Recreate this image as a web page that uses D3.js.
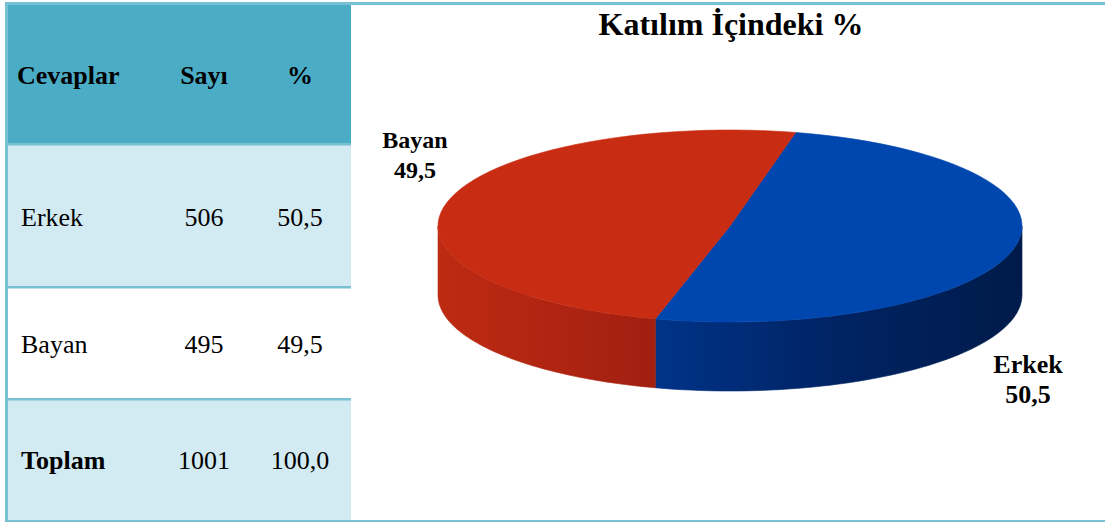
<!DOCTYPE html>
<html>
<head>
<meta charset="utf-8">
<script src="https://cdn.jsdelivr.net/npm/d3@7"></script>
<style>
  body { margin: 0; background: #fff; }
  svg { display: block; }
</style>
</head>
<body>
<svg id="chart" width="1105" height="522"></svg>
<script>
/* global d3: false */

// data
const headers = ['Cevaplar', 'Sayı', '%'];
const categories = ['Erkek', 'Bayan'];
const counts = [506, 495];
const percents = ['50,5', '49,5'];
const totalLabel = 'Toplam';
const totalCount = 1001;
const totalPercent = '100,0';
const pieValues = [50.5, 49.5];
const title = 'Katılım İçindeki %';

const fams = ['Liberation Serif'];
const svg = d3.select('#chart');
const lineColor = '#78c1d3';

// table layout
const rowEdges = [5, 145, 288, 400, 520];
const rowFills = ['#4bacc6', '#d2eaf1', '#ffffff', '#d2eaf1'];
const tableLeft = 8;
const tableRight = 351;
const colX = [20, 204, 300];
const colAnchor = ['start', 'middle', 'middle'];

const tableRows = [
  { cells: headers, bold: [true, true, true] },
  { cells: [categories[0], String(counts[0]), percents[0]], bold: [false, false, false] },
  { cells: [categories[1], String(counts[1]), percents[1]], bold: [false, false, false] },
  { cells: [totalLabel, String(totalCount), totalPercent], bold: [true, false, false] },
];

svg.selectAll('rect.row')
  .data(tableRows)
  .enter()
  .append('rect')
  .attr('class', 'row')
  .attr('x', tableLeft)
  .attr('y', (d, i) => rowEdges[i])
  .attr('width', tableRight - tableLeft)
  .attr('height', (d, i) => rowEdges[i + 1] - rowEdges[i])
  .attr('fill', (d, i) => rowFills[i]);

// row separators
svg.selectAll('rect.sep')
  .data(rowEdges.slice(1, -1))
  .enter()
  .append('rect')
  .attr('class', 'sep')
  .attr('x', tableLeft)
  .attr('y', d => d - 2)
  .attr('width', tableRight - tableLeft)
  .attr('height', 2.5)
  .attr('fill', lineColor);

// outer frame lines
svg.append('rect').attr('x', 5).attr('y', 2).attr('width', 1100).attr('height', 3)
  .attr('fill', lineColor);
svg.append('rect').attr('x', 5).attr('y', 2).attr('width', 3).attr('height', 520)
  .attr('fill', lineColor);
svg.append('rect').attr('x', 5).attr('y', 520).attr('width', 1100).attr('height', 2)
  .attr('fill', lineColor);

// 3D pie
const cx = 730;
const cy = 226;
const rx = 292;
const ry = 96;
const depth = 69;
const startAngle = 13 * Math.PI / 180;

const topColors = ['#0046af', '#c82c12'];
const sideStops = [
  ['#003388', '#002363', '#001b4a'],
  ['#be2a12', '#b02512', '#a11f10'],
];

const pie = d3.pie().sort(null)
  .startAngle(startAngle)
  .endAngle(startAngle + 2 * Math.PI);
const arcs = pie(pieValues);

const px = a => cx + rx * Math.sin(a);
const py = a => cy - ry * Math.cos(a);
const sample = (a0, a1) => d3.range(0, 61).map(k => a0 + ((a1 - a0) * k) / 60);
const line = d3.line();

const defs = svg.append('defs');
const pieG = svg.append('g');

// side walls: only the front half (angles between pi/2 and 3pi/2) is seen
arcs.forEach((d, i) => {
  const segs = [];
  for (let off = 0; off <= 2 * Math.PI; off += 2 * Math.PI) {
    const a0 = Math.max(d.startAngle, Math.PI / 2 + off);
    const a1 = Math.min(d.endAngle, 1.5 * Math.PI + off);
    if (a1 > a0) segs.push([a0, a1]);
  }
  segs.forEach(([a0, a1], s) => {
    const top = sample(a0, a1).map(a => [px(a), py(a)]);
    const bottom = top.slice().reverse().map(p => [p[0], p[1] + depth]);
    const xs = top.map(p => p[0]);
    const id = `side${i}_${s}`;
    const grad = defs.append('linearGradient')
      .attr('id', id)
      .attr('gradientUnits', 'userSpaceOnUse')
      .attr('x1', d3.min(xs)).attr('x2', d3.max(xs))
      .attr('y1', 0).attr('y2', 0);
    const stops = sideStops[i];
    grad.selectAll('stop')
      .data(stops)
      .enter()
      .append('stop')
      .attr('offset', (c, k) => k / (stops.length - 1))
      .attr('stop-color', c => c);
    pieG.append('path')
      .attr('d', `${line(top.concat(bottom))}Z`)
      .attr('fill', `url(#${id})`)
      .attr('stroke', `url(#${id})`)
      .attr('stroke-width', 0.6);
  });
});

// top faces
pieG.selectAll('path.top')
  .data(arcs)
  .enter()
  .append('path')
  .attr('class', 'top')
  .attr('d', d => `M${cx},${cy}L${line(sample(d.startAngle, d.endAngle).map(a => [px(a), py(a)])).slice(1)}Z`)
  .attr('fill', (d, i) => topColors[i])
  .attr('stroke', (d, i) => topColors[i])
  .attr('stroke-width', 0.6);

// all texts as one list, drawn in a single join
const textItems = [];
tableRows.forEach((row, i) => {
  const mid = (rowEdges[i] + rowEdges[i + 1]) / 2;
  row.cells.forEach((cell, j) => {
    let x = colX[j];
    if (j === 0) x += i > 0 ? 1 : -3;
    textItems.push({ t: cell, x, y: mid + 9, anchor: colAnchor[j], size: 26, bold: row.bold[j] });
  });
});
textItems.push({ t: title, x: 731, y: 35, anchor: 'middle', size: 32, bold: true });
const labelPos = [[1028, 373], [415, 148]];
const labelSize = [26, 24];
arcs.forEach((d, i) => {
  textItems.push({ t: categories[i], x: labelPos[i][0], y: labelPos[i][1], anchor: 'middle', size: labelSize[i], bold: true });
  textItems.push({ t: percents[i], x: labelPos[i][0], y: labelPos[i][1] + 30, anchor: 'middle', size: labelSize[i], bold: true });
});

svg.selectAll('text')
  .data(textItems)
  .enter()
  .append('text')
  .attr('x', d => d.x)
  .attr('y', d => d.y)
  .attr('text-anchor', d => d.anchor)
  .attr('font-size', d => d.size)
  .style('font-family', () => fams[0])
  .style('font-weight', d => (d.bold ? 'bold' : 'normal'))
  .text(d => d.t);
</script>
</body>
</html>
